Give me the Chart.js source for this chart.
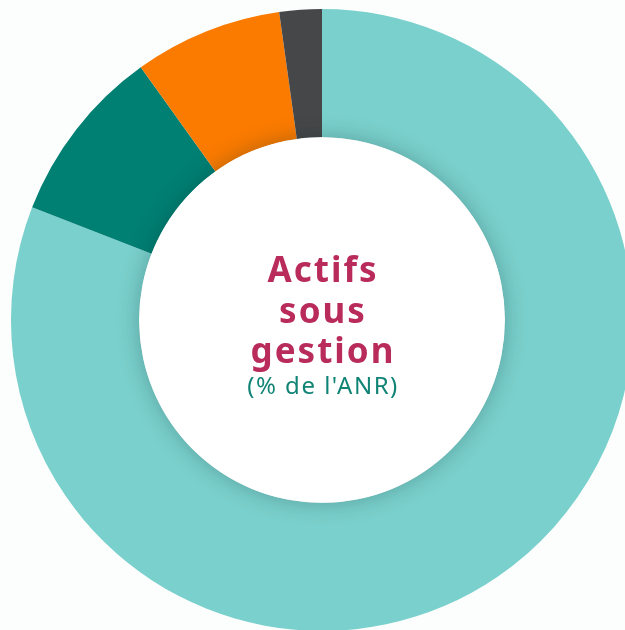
<!DOCTYPE html>
<html><head><meta charset="utf-8">
<script src="https://cdn.jsdelivr.net/npm/chart.js@4"></script>
<style>
html,body{margin:0;padding:0;width:625px;height:630px;overflow:hidden;background:#fcfefe;}
#wrap{position:absolute;left:11px;top:9px;width:622px;height:622px;}
</style></head>
<body>
<div id="wrap"><canvas id="c"></canvas></div>
<script>
const categories = ["Catégorie A", "Catégorie B", "Catégorie C", "Catégorie D"];
const values = [80.9, 9.2, 7.7, 2.2];
const colors = ["#7ad0cc", "#007f73", "#fb7b00", "#464749"];
const titleLines = ["Actifs", "sous", "gestion"];
const subtitle = "(% de l'ANR)";

const centerPlugin = {
  id: 'center',
  afterDatasetsDraw(chart) {
    const meta = chart.getDatasetMeta(0);
    const arc = meta.data[0];
    const ctx = chart.ctx;
    const x = arc.x, y = arc.y, r = arc.innerRadius;
    ctx.save();
    ctx.beginPath();
    ctx.arc(x, y, r, 0, Math.PI * 2);
    ctx.fillStyle = '#ffffff';
    ctx.shadowColor = 'rgba(0,40,40,0.28)';
    ctx.shadowBlur = 22;
    ctx.fill();
    ctx.restore();
    ctx.save();
    ctx.textAlign = 'center';
    ctx.textBaseline = 'middle';
    ctx.fillStyle = '#b82b5b';
    ctx.letterSpacing = '2px';
    ctx.font = 'bold 35px "Noto Sans", "Open Sans", sans-serif';
    const ys = [-48, -7, 33];
    titleLines.forEach((t, i) => ctx.fillText(t, x + 1, y + ys[i]));
    ctx.fillStyle = '#128476';
    ctx.letterSpacing = '1.5px';
    ctx.font = '24px "Noto Sans", "Open Sans", sans-serif';
    ctx.fillText(subtitle, x + 1, y + 67);
    ctx.restore();
  }
};

new Chart(document.getElementById('c'), {
  type: 'doughnut',
  data: {
    labels: categories,
    datasets: [{ data: values, backgroundColor: colors, borderWidth: 0, hoverOffset: 0 }]
  },
  options: {
    responsive: true,
    maintainAspectRatio: false,
    animation: false,
    cutout: '58.8%',
    layout: { padding: 0 },
    plugins: { legend: { display: false }, tooltip: { enabled: false } }
  },
  plugins: [centerPlugin]
});
</script>
</body></html>
